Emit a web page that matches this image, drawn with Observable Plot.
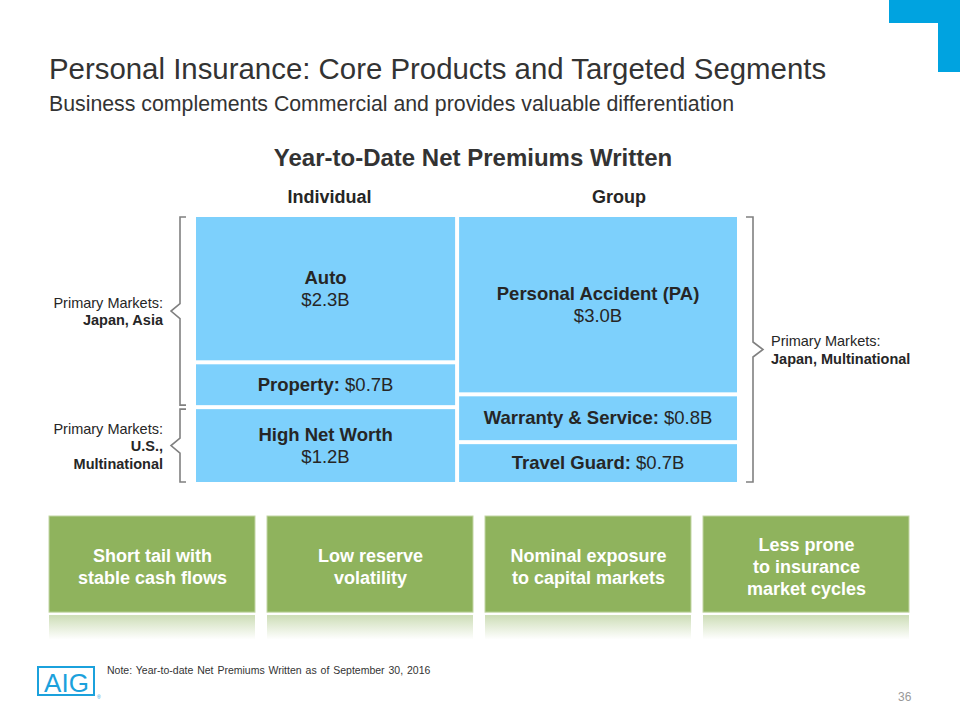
<!DOCTYPE html>
<html>
<head>
<meta charset="utf-8">
<script src="https://cdn.jsdelivr.net/npm/d3@7"></script>
<script src="https://cdn.jsdelivr.net/npm/@observablehq/plot@0.6"></script>
<style>
  html, body { margin: 0; padding: 0; background: #fff; }
  #page { position: relative; width: 960px; height: 720px; overflow: hidden; background: #fff;
          font-family: "Liberation Sans", Arial, Helvetica, sans-serif; color: #333; }
  .abs { position: absolute; white-space: nowrap; line-height: 1; }
  #main, #benefits { position: absolute; left: 0; }
  #main { top: 180px; }
  #benefits { top: 500px; }
</style>
</head>
<body>
<div id="page">
  <div class="abs" style="left:889px;top:0;width:71px;height:23px;background:#00A3E0"></div>
  <div class="abs" style="left:938px;top:0;width:22px;height:72px;background:#00A3E0"></div>
  <div class="abs" id="title" style="left:49px;top:54.2px;font-size:29.4px;color:#333">Personal Insurance: Core Products and Targeted Segments</div>
  <div class="abs" id="subtitle" style="left:49px;top:94px;font-size:21.3px;color:#333">Business complements Commercial and provides valuable differentiation</div>
  <div class="abs" id="charttitle" style="left:0;width:946px;text-align:center;top:145.7px;font-size:24px;font-weight:bold;color:#333">Year-to-Date Net Premiums Written</div>
  <div id="main"></div>
  <div id="benefits"></div>
  <div class="abs" style="left:37px;top:666px;width:54px;height:26px;border:2.5px solid #1BA1DC;"></div>
  <div class="abs" style="left:37px;top:670px;width:59px;text-align:center;font-size:26px;color:#1BA1DC;">AIG</div>
  <div class="abs" style="left:97px;top:695px;font-size:5px;color:#1BA1DC;">®</div>
  <div class="abs" id="note" style="left:107px;top:665px;font-size:10.5px;color:#333;word-spacing:1px">Note: Year-to-date Net Premiums Written as of September 30, 2016</div>
  <div class="abs" id="pagenum" style="left:898px;top:691px;font-size:12px;color:#999">36</div>
</div>
<script>
// ---------------- data ----------------
const columns = ["Individual", "Group"];
const products = ["Auto", "Property", "High Net Worth", "Personal Accident (PA)", "Warranty & Service", "Travel Guard"];
const productColumn = ["Individual", "Individual", "Individual", "Group", "Group", "Group"];
const premiumsB = [2.3, 0.7, 1.2, 3.0, 0.8, 0.7]; // $ billions, YTD net premiums written
const marketNames = ["Japan, Asia", "U.S.,\nMultinational", "Japan, Multinational"];
const marketProducts = [["Auto", "Property"], ["High Net Worth"], ["Personal Accident (PA)", "Warranty & Service", "Travel Guard"]];
const benefits = ["Short tail with\nstable cash flows", "Low reserve\nvolatility", "Nominal exposure\nto capital markets", "Less prone\nto insurance\nmarket cycles"];

// ---------------- derived table ----------------
const FONT = '"Liberation Sans", Arial, Helvetica, sans-serif';
const INK = "#262626";
const colTotals = columns.map(c => d3.sum(premiumsB.filter((v, i) => productColumn[i] === c)));
const colStart = Array.from(d3.cumsum([0, ...colTotals]));
const cells = [];
columns.forEach((c, ci) => {
  let acc = 0;
  products.forEach((p, i) => {
    if (productColumn[i] !== c) return;
    const share = premiumsB[i] / colTotals[ci];
    cells.push({product: p, column: c, ci, value: premiumsB[i],
                x1: colStart[ci], x2: colStart[ci + 1], y1: acc, y2: acc + share});
    acc += share;
  });
});
const fmt = v => `$${v.toFixed(1)}B`;

function annotations(index, scales) {
  const x = scales.x, y = scales.y;
  const g = d3.create("svg:g").attr("font-family", FONT).style("white-space", "pre");
  const headerShift = [4, 21];
  columns.forEach((c, ci) => {
    g.append("text")
      .attr("x", (x(colStart[ci]) + x(colStart[ci + 1])) / 2 + headerShift[ci])
      .attr("y", y(0) - 12)
      .attr("text-anchor", "middle").attr("font-size", 18).attr("font-weight", "bold")
      .attr("fill", INK).text(c);
  });
  // cell labels
  for (const d of cells) {
    const cx = (x(d.x1) + x(d.x2)) / 2, cy = (y(d.y1) + y(d.y2)) / 2;
    if (d.value >= 1) {
      g.append("text").attr("x", cx).attr("y", cy - 5).attr("text-anchor", "middle")
        .attr("font-size", 18.5).attr("font-weight", "bold").attr("fill", INK).text(d.product);
      g.append("text").attr("x", cx).attr("y", cy + 17).attr("text-anchor", "middle")
        .attr("font-size", 18.5).attr("fill", INK).text(fmt(d.value));
    } else {
      const t = g.append("text").attr("x", cx).attr("y", cy + 6).attr("text-anchor", "middle")
        .attr("font-size", 18.5).attr("fill", INK);
      t.append("tspan").attr("font-weight", "bold").text(d.product + ":");
      t.append("tspan").text(" " + fmt(d.value));
    }
  }
  // brackets and market labels
  const xMin = x(colStart[0]), xMax = x(colStart[colStart.length - 1]);
  marketNames.forEach((name, mi) => {
    const sel = cells.filter(d => marketProducts[mi].includes(d.product));
    const top = y(d3.min(sel, d => d.y1)) + 2, bottom = y(d3.max(sel, d => d.y2)) - 2;
    const mid = (top + bottom) / 2;
    const left = sel[0].ci === 0;
    const xv = left ? xMin - 14 : xMax + 14;
    const xt = left ? xMin - 8 : xMax + 7;
    const xtip = left ? xMin - 23 : xMax + 24;
    g.append("path")
      .attr("d", `M${xt},${top}H${xv}V${mid - 7.5}L${xtip},${mid}L${xv},${mid + 7.5}V${bottom}H${xt}`)
      .attr("fill", "none").attr("stroke", "#808080").attr("stroke-width", 1.6);
    const lines = ["Primary Markets:", ...name.split("\n")];
    const n = lines.length;
    lines.forEach((line, li) => {
      g.append("text")
        .attr("x", left ? xMin - 31 : xMax + 32)
        .attr("y", mid + 5.5 + (li - (n - 1) / 2) * 17.5)
        .attr("text-anchor", left ? "end" : "start")
        .attr("font-size", 14.5).attr("font-weight", li === 0 ? "normal" : "bold")
        .attr("fill", INK).text(line);
    });
  });
  return g.node();
}

const main = Plot.plot({
  width: 960, height: 320,
  marginTop: 35, marginBottom: 16, marginLeft: 194, marginRight: 221,
  x: {domain: [0, colStart[colStart.length - 1]], axis: null},
  y: {domain: [0, 1], reverse: true, axis: null},
  style: {fontFamily: FONT, background: "transparent", overflow: "visible"},
  marks: [
    Plot.rect(cells, {x1: "x1", x2: "x2", y1: "y1", y2: "y2", fill: "#7DD0FC", inset: 2}),
    annotations
  ]
});
document.getElementById("main").append(main);

const benefitsPlot = Plot.plot({
  width: 960, height: 150,
  marginTop: 16, marginBottom: 9, marginLeft: 48, marginRight: 49,
  x: {domain: benefits, axis: null, paddingInner: 0.053, paddingOuter: 0},
  y: {domain: [-0.3, 1], axis: null},
  style: {fontFamily: FONT, background: "transparent", overflow: "visible"},
  marks: [
    Plot.barY(benefits, {x: d => d, y1: 0, y2: 1, fill: "#8FB35D", stroke: "#c2d5a4", strokeWidth: 1}),
    Plot.barY(benefits, {x: d => d, y1: -0.285, y2: -0.03, fill: "url(#benefitFade)"}),
    Plot.text(benefits, {x: d => d, y: 0.5, text: d => d, fill: "white", fontWeight: "bold",
                         fontSize: 18, lineHeight: 1.22, dy: 1})
  ]
});
d3.select(benefitsPlot).insert("defs", ":first-child").html(
  `<linearGradient id="benefitFade" x1="0" y1="0" x2="0" y2="1">
     <stop offset="0" stop-color="#8FB35D" stop-opacity="0.45"/>
     <stop offset="0.55" stop-color="#8FB35D" stop-opacity="0.2"/>
     <stop offset="1" stop-color="#8FB35D" stop-opacity="0"/>
   </linearGradient>`);
document.getElementById("benefits").append(benefitsPlot);
</script>
</body>
</html>
